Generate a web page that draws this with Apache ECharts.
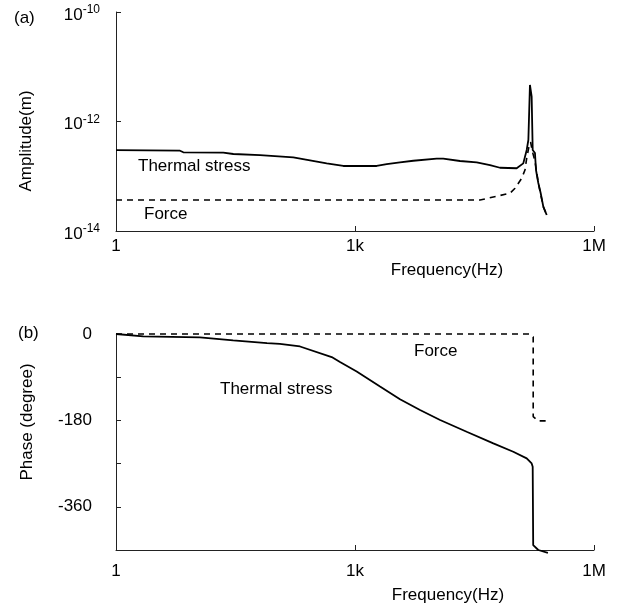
<!DOCTYPE html>
<html><head><meta charset="utf-8">
<script src="https://cdn.jsdelivr.net/npm/echarts@6/dist/echarts.min.js"></script>
<style>html,body{margin:0;padding:0;background:#fff}#c{width:620px;height:605px}</style>
</head><body><div id="c"></div>
<script>
// ---- data ----
const ampThermalFreq = [1, 6.36, 7.0, 22.2, 29.7, 64.2, 168, 441, 713, 1870, 2500, 3670, 5390, 10600, 12800, 20800, 33700, 49500, 66100, 107000, 129500, 143000, 150000, 157000, 165000, 170000, 181500, 187000, 200000, 214000, 231000, 255000];
const ampThermal = [3.01e-13, 2.93e-13, 2.74e-13, 2.69e-13, 2.55e-13, 2.44e-13, 2.22e-13, 1.72e-13, 1.54e-13, 1.54e-13, 1.67e-13, 1.80e-13, 1.92e-13, 2.09e-13, 2.09e-13, 1.90e-13, 1.80e-13, 1.60e-13, 1.43e-13, 1.40e-13, 1.72e-13, 3.02e-13, 4.59e-13, 4.65e-12, 2.84e-12, 3.02e-13, 2.66e-13, 1.30e-13, 7.53e-14, 4.95e-14, 2.78e-14, 1.96e-14];
const ampForceFreq = [1, 37100, 88200, 102000, 123700, 136000, 143000, 154000, 160000, 170000, 181500, 200000, 231000, 255000];
const ampForce = [3.68e-14, 3.68e-14, 4.89e-14, 6.03e-14, 9.18e-14, 1.30e-13, 2.15e-13, 3.72e-13, 4.2e-13, 2.7e-13, 1.9e-13, 7.5e-14, 2.78e-14, 1.96e-14];
const phThermalFreq = [1, 2.2, 11.3, 29.5, 78.6, 114, 204, 510, 648, 1050, 2060, 3670, 6550, 11700, 25200, 54500, 97000, 143000, 165000, 170000, 172500, 200000, 264000];
const phThermal = [0, -5, -7, -13.4, -19, -20.5, -26, -48.1, -58.5, -78.2, -109.5, -135.8, -158.2, -179.1, -203.6, -227.8, -245.4, -259.1, -269.6, -276.7, -440, -450, -456];
const phForceFreq = [1, 157000, 172500, 172500, 200000, 264000];
const phForce = [0, 0, -6, -172, -181, -181];
const freqTickLabels = {0: '1', 3: '1k', 6: '1M'};
const phaseTickLabels = {'0': '0', '-180': '-180', '-360': '-360'};
const seriesNames = ['Thermal stress', 'Force'];

const FONT = 'Liberation Sans, Arial, Helvetica, sans-serif';
const zip = (a, b) => a.map((v, i) => [v, b[i]]);

const xAxisCommon = (gi, margin) => ({
  gridIndex: gi, type: 'log', logBase: 1000, min: 1, max: 1e6,
  axisLine: {onZero: false, lineStyle: {color: '#222', width: 1}},
  axisTick: {inside: true, length: 5, lineStyle: {color: '#222'}},
  splitLine: {show: false}, minorTick: {show: false},
  axisLabel: {margin: margin, color: '#000', fontSize: 17, fontFamily: FONT,
    formatter: v => freqTickLabels[Math.round(Math.log10(v))] || ''}
});

const textEl = (x, y, text, align, rot) => ({
  type: 'text', x: x, y: y, rotation: rot || 0,
  style: {text: text, font: '17px ' + FONT, fill: '#000', align: align, verticalAlign: 'middle', textAlign: align, textVerticalAlign: 'middle'}
});

const chart = echarts.init(document.getElementById('c'), null, {renderer: 'canvas'});
chart.setOption({
  animation: false,
  backgroundColor: '#fff',
  grid: [
    {left: 116, right: 26, top: 12, height: 219},
    {left: 116, right: 26, top: 334, height: 216}
  ],
  xAxis: [xAxisCommon(0, 7), xAxisCommon(1, 13)],
  yAxis: [
    {gridIndex: 0, type: 'log', logBase: 100, min: 1e-14, max: 1e-10,
      axisLine: {show: true, onZero: false, lineStyle: {color: '#222', width: 1}},
      axisTick: {show: true, inside: true, length: 5, lineStyle: {color: '#222'}},
      splitLine: {show: false},
      axisLabel: {margin: 16, color: '#000', fontFamily: FONT, padding: [6, 0, 0, 0],
        formatter: v => '{b|10}{s|' + Math.round(Math.log10(v)) + '}',
        rich: {
          b: {fontSize: 17, fontFamily: FONT, color: '#000', lineHeight: 22},
          s: {fontSize: 12, fontFamily: FONT, color: '#000', verticalAlign: 'top'}
        }}
    },
    {gridIndex: 1, type: 'value', min: -450, max: 0, interval: 90,
      axisLine: {show: true, onZero: false, lineStyle: {color: '#222', width: 1}},
      axisTick: {show: true, inside: true, length: 5, lineStyle: {color: '#222'}},
      splitLine: {show: false},
      axisLabel: {margin: 24, color: '#000', fontSize: 17, fontFamily: FONT,
        formatter: v => phaseTickLabels[String(Math.round(v))] || ''}
    }
  ],
  series: [
    {name: seriesNames[0], type: 'line', xAxisIndex: 0, yAxisIndex: 0, data: zip(ampThermalFreq, ampThermal),
      showSymbol: false, lineStyle: {color: '#000', width: 1.8}, clip: false},
    {name: seriesNames[1], type: 'line', xAxisIndex: 0, yAxisIndex: 0, data: zip(ampForceFreq, ampForce),
      showSymbol: false, lineStyle: {color: '#000', width: 1.6, type: [6, 5]}, clip: false},
    {name: seriesNames[0], type: 'line', xAxisIndex: 1, yAxisIndex: 1, data: zip(phThermalFreq, phThermal),
      showSymbol: false, lineStyle: {color: '#000', width: 1.8}, clip: false},
    {name: seriesNames[1], type: 'line', xAxisIndex: 1, yAxisIndex: 1, data: zip(phForceFreq, phForce),
      showSymbol: false, lineStyle: {color: '#000', width: 1.6, type: [6, 5]}, clip: false}
  ],
  graphic: [
    textEl(14, 18, '(a)', 'left'),
    textEl(18, 333, '(b)', 'left'),
    textEl(26, 141, 'Amplitude(m)', 'center', Math.PI / 2),
    textEl(27, 422, 'Phase (degree)', 'center', Math.PI / 2),
    textEl(447, 270, 'Frequency(Hz)', 'center'),
    textEl(448, 595, 'Frequency(Hz)', 'center'),
    textEl(138, 166, seriesNames[0], 'left'),
    textEl(144, 214, seriesNames[1], 'left'),
    textEl(220, 389, seriesNames[0], 'left'),
    textEl(414, 351, seriesNames[1], 'left')
  ]
});
</script></body></html>
